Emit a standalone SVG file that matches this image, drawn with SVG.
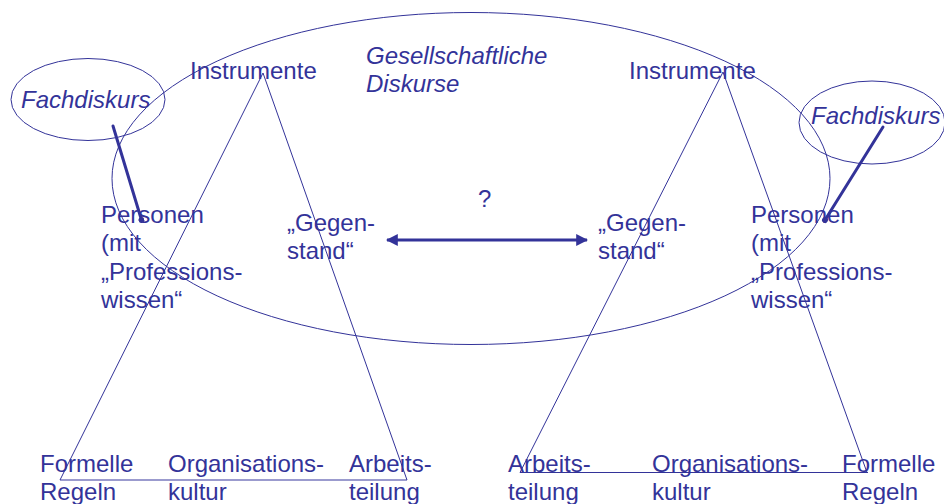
<svg xmlns="http://www.w3.org/2000/svg" width="944" height="504" viewBox="0 0 944 504">
<style>
text{font-family:"Liberation Sans",Arial,sans-serif;font-size:24px;fill:#333399}
.it{font-style:italic}
.thin{fill:none;stroke:#333399;stroke-width:1}
.thick{fill:none;stroke:#333399;stroke-width:3;stroke-linecap:round}
</style>
<defs>
<marker id="ah" viewBox="0 0 10 10" refX="9" refY="5" markerWidth="4" markerHeight="4" orient="auto-start-reverse" markerUnits="strokeWidth">
<path d="M0,0 L10,5 L0,10 Z" fill="#333399"/>
</marker>
<marker id="dot" viewBox="0 0 10 10" refX="5" refY="5" markerWidth="2" markerHeight="2" orient="auto">
<circle cx="5" cy="5" r="5" fill="#333399"/>
</marker>
</defs>
<rect width="944" height="504" fill="#ffffff"/>
<g id="connectors">
<ellipse id="gesellschaft-ellipse" class="thin" cx="471" cy="178.5" rx="359" ry="166"/>
<ellipse class="thin" cx="88" cy="99.5" rx="77" ry="41"/>
<ellipse class="thin" cx="872" cy="122.5" rx="73" ry="41.5"/>
<polyline class="thin" points="263,73 60,480"/>
<polyline class="thin" points="263,73 407,480"/>
<line x1="60" y1="480" x2="407" y2="480" stroke="#333399" stroke-width="1.5" stroke-opacity="0.65"/>
<polyline class="thin" points="723,72 520,472.5"/>
<polyline class="thin" points="723,72 867,472.5"/>
<line x1="520" y1="472.5" x2="868" y2="472.5" stroke="#333399" stroke-width="1"/>
<line class="thick" x1="113" y1="126" x2="141.5" y2="220" marker-end="url(#dot)"/>
<line class="thick" x1="883" y1="127" x2="825" y2="220" marker-end="url(#dot)"/>
<line x1="387" y1="240" x2="587" y2="240" stroke="#333399" stroke-width="3" marker-start="url(#ah)" marker-end="url(#ah)"/>
</g>
<g id="node-gesellschaft"><text class="it" x="366" y="64">Gesellschaftliche</text><text class="it" x="366" y="92">Diskurse</text></g>
<g id="node-fach-left"><text class="it" x="21" y="108">Fachdiskurs</text></g>
<g id="node-fach-right"><text class="it" x="811" y="124">Fachdiskurs</text></g>
<g id="node-instr-left"><text x="190" y="79">Instrumente</text></g>
<g id="node-instr-right"><text x="629" y="79">Instrumente</text></g>
<g id="node-pers-left"><text x="101" y="223">Personen</text><text x="101" y="251">(mit</text><text x="101" y="280">„Professions-</text><text x="101" y="308">wissen“</text></g>
<g id="node-pers-right"><text x="751" y="223">Personen</text><text x="751" y="251">(mit</text><text x="751" y="280">„Professions-</text><text x="751" y="308">wissen“</text></g>
<g id="node-gegen-left"><text x="287" y="231">„Gegen-</text><text x="287" y="259">stand“</text></g>
<g id="node-gegen-right"><text x="598" y="231">„Gegen-</text><text x="598" y="259">stand“</text></g>
<g id="node-q"><text x="478" y="207">?</text></g>
<g id="node-formelle-left"><text x="40" y="472">Formelle</text><text x="40" y="500">Regeln</text></g>
<g id="node-org-left"><text x="168" y="472">Organisations-</text><text x="168" y="500">kultur</text></g>
<g id="node-arb-left"><text x="349" y="472">Arbeits-</text><text x="349" y="500">teilung</text></g>
<g id="node-arb-right"><text x="508" y="472">Arbeits-</text><text x="508" y="500">teilung</text></g>
<g id="node-org-right"><text x="652" y="472">Organisations-</text><text x="652" y="500">kultur</text></g>
<g id="node-formelle-right"><text x="842" y="472">Formelle</text><text x="842" y="500">Regeln</text></g>
</svg>
